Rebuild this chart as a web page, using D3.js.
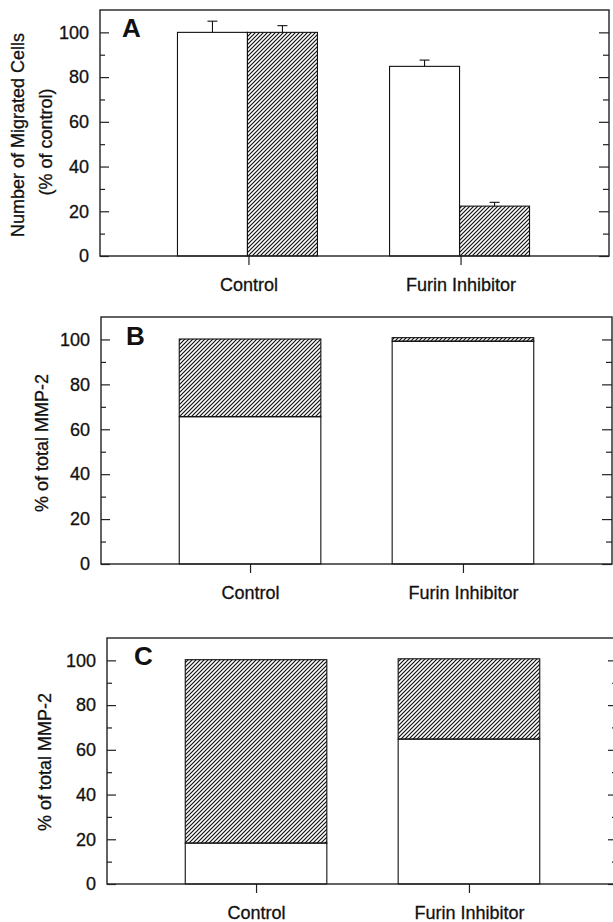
<!DOCTYPE html>
<html>
<head>
<meta charset="utf-8">
<script src="https://cdn.jsdelivr.net/npm/d3@7"></script>
<style>
  body { margin: 0; background: #fff; }
  svg { display: block; font-family: "Liberation Sans", Arial, sans-serif; }
</style>
</head>
<body>
<svg id="chart" width="613" height="922"></svg>
<script>
// values
var categories = ["Control", "Furin Inhibitor"];

// panel A: migrated cells, % of control
var migOpen = [100, 84.8],
    migOpenErr = [5, 2.8],
    migHatched = [100, 22.3],
    migHatchedErr = [3, 1.7];

// panel B: % of total MMP-2 (stacked)
var mmpBOpen = [65.6, 99.2],
    mmpBHatched = [34.6, 1.6];

// panel C: % of total MMP-2 (stacked)
var mmpCOpen = [18.3, 64.8],
    mmpCHatched = [82.0, 35.9];

var yMajor = [0, 20, 40, 60, 80, 100],
    yMinor = [10, 30, 50, 70, 90];

var svg = d3.select("#chart");
svg.append("rect").attr("width", 613).attr("height", 922).attr("fill", "#fff");

// diagonal hatching "/"
var defs = svg.append("defs");
defs.append("pattern")
    .attr("id", "hatch")
    .attr("patternUnits", "userSpaceOnUse")
    .attr("width", 4)
    .attr("height", 4)
  .append("path")
    .attr("d", "M-1,1 l2,-2 M0,4 l4,-4 M3,5 l2,-2")
    .attr("stroke", "#111")
    .attr("stroke-width", 1.2);

var ink = "#222";

function panel(cfg) {
    var g = svg.append("g");

    var y = d3.scaleLinear().domain([0, 110]).range([cfg.bottom, cfg.top]);
    var x = d3.scalePoint().domain(categories).range([cfg.left, cfg.right]).padding(0.7);

    // left axis, ticks pointing in
    g.append("g")
        .attr("transform", "translate(" + cfg.left + ",0)")
        .call(d3.axisLeft(y).tickValues(yMajor).tickSize(-9).tickPadding(11))
        .call(function(a) {
            a.select(".domain").remove();
            a.selectAll("text").attr("font-size", 18).attr("font-family", null)
                .attr("fill", "#111").attr("stroke", "#111").attr("stroke-width", 0.3);
            a.selectAll("line").attr("stroke", ink).attr("stroke-width", 1.2);
        });
    g.append("g")
        .attr("transform", "translate(" + cfg.left + ",0)")
        .call(d3.axisLeft(y).tickValues(yMinor).tickSize(-5).tickFormat(""))
        .call(function(a) {
            a.select(".domain").remove();
            a.selectAll("line").attr("stroke", ink).attr("stroke-width", 1.2);
        });

    // right axis, unlabeled, ticks pointing in
    g.append("g")
        .attr("transform", "translate(" + cfg.right + ",0)")
        .call(d3.axisRight(y).tickValues(yMajor).tickSize(-10).tickFormat(""))
        .call(function(a) {
            a.select(".domain").remove();
            a.selectAll("line").attr("stroke", ink).attr("stroke-width", 1.2);
        });
    g.append("g")
        .attr("transform", "translate(" + cfg.right + ",0)")
        .call(d3.axisRight(y).tickValues(yMinor).tickSize(-6).tickFormat(""))
        .call(function(a) {
            a.select(".domain").remove();
            a.selectAll("line").attr("stroke", ink).attr("stroke-width", 1.2);
        });

    // bottom axis: category ticks hang below
    g.append("g")
        .attr("transform", "translate(0," + cfg.bottom + ")")
        .call(d3.axisBottom(x).tickSize(9).tickPadding(13))
        .call(function(a) {
            a.select(".domain").remove();
            a.selectAll("text").attr("font-size", 18).attr("font-family", null)
                .attr("fill", "#111").attr("stroke", "#111").attr("stroke-width", 0.3);
            a.selectAll("line").attr("stroke", ink).attr("stroke-width", 1.2);
        });

    var bars = g.append("g");
    cfg.draw(bars, x, y);

    // frame
    g.append("rect")
        .attr("x", cfg.left)
        .attr("y", cfg.top)
        .attr("width", cfg.right - cfg.left)
        .attr("height", cfg.bottom - cfg.top)
        .attr("fill", "none")
        .attr("stroke", ink)
        .attr("stroke-width", 1.4);

    // y label
    cfg.ylabel.forEach(function(l) {
        g.append("text")
            .attr("transform", "translate(" + l.x + "," + l.y + ") rotate(-90)")
            .attr("text-anchor", "middle")
            .attr("dy", "0.35em")
            .attr("font-size", 18)
            .attr("fill", "#111")
            .attr("stroke", "#111")
            .attr("stroke-width", 0.3)
            .text(l.text);
    });

    // panel letter
    g.append("text")
        .attr("x", cfg.letterX)
        .attr("y", cfg.letterY)
        .attr("font-size", 26)
        .attr("font-weight", "bold")
        .attr("fill", "#111")
        .text(cfg.letter);
}

function rectStyle(sel, fill) {
    return sel.attr("fill", fill).attr("stroke", "#111").attr("stroke-width", 1.1);
}

function errorBars(g, xs, tops, errs, y) {
    xs.forEach(function(cx, i) {
        g.append("line")
            .attr("x1", cx).attr("x2", cx)
            .attr("y1", y(tops[i])).attr("y2", y(tops[i] + errs[i]))
            .attr("stroke", "#111").attr("stroke-width", 1.1);
        g.append("line")
            .attr("x1", cx - 5).attr("x2", cx + 5)
            .attr("y1", y(tops[i] + errs[i])).attr("y2", y(tops[i] + errs[i]))
            .attr("stroke", "#111").attr("stroke-width", 1.1);
    });
}

function stacked(openVals, hatchVals) {
    return function(g, x, y) {
        var w = x.step() * 0.665;
        categories.forEach(function(c, i) {
            var x0 = x(c) - w / 2;
            rectStyle(g.append("rect"), "#fff")
                .attr("x", x0).attr("width", w)
                .attr("y", y(openVals[i])).attr("height", y(0) - y(openVals[i]));
            var top = openVals[i] + hatchVals[i];
            rectStyle(g.append("rect"), "url(#hatch)")
                .attr("x", x0).attr("width", w)
                .attr("y", y(top)).attr("height", y(openVals[i]) - y(top));
        });
    };
}

// A
panel({
    left: 100, right: 609, top: 10, bottom: 256,
    letter: "A", letterX: 122, letterY: 37,
    ylabel: [
        {text: "Number of Migrated Cells", x: 18, y: 135},
        {text: "(% of control)", x: 46, y: 142}
    ],
    draw: function(g, x, y) {
        var w = x.step() * 0.33;
        var open = categories.map(function(c) { return x(c) - 1 - w; });
        var hatch = categories.map(function(c) { return x(c) - 1; });
        categories.forEach(function(c, i) {
            rectStyle(g.append("rect"), "#fff")
                .attr("x", open[i]).attr("width", w)
                .attr("y", y(migOpen[i])).attr("height", y(0) - y(migOpen[i]));
            rectStyle(g.append("rect"), "url(#hatch)")
                .attr("x", hatch[i]).attr("width", w)
                .attr("y", y(migHatched[i])).attr("height", y(0) - y(migHatched[i]));
        });
        errorBars(g, open.map(function(v) { return v + w / 2; }), migOpen, migOpenErr, y);
        errorBars(g, hatch.map(function(v) { return v + w / 2; }), migHatched, migHatchedErr, y);
    }
});

// B
panel({
    left: 101, right: 612, top: 317, bottom: 564,
    letter: "B", letterX: 126, letterY: 345,
    ylabel: [{text: "% of total MMP-2", x: 42, y: 443}],
    draw: stacked(mmpBOpen, mmpBHatched)
});

// C
panel({
    left: 107, right: 618, top: 638, bottom: 884,
    letter: "C", letterX: 134, letterY: 665,
    ylabel: [{text: "% of total MMP-2", x: 45, y: 762}],
    draw: stacked(mmpCOpen, mmpCHatched)
});
</script>
</body>
</html>
